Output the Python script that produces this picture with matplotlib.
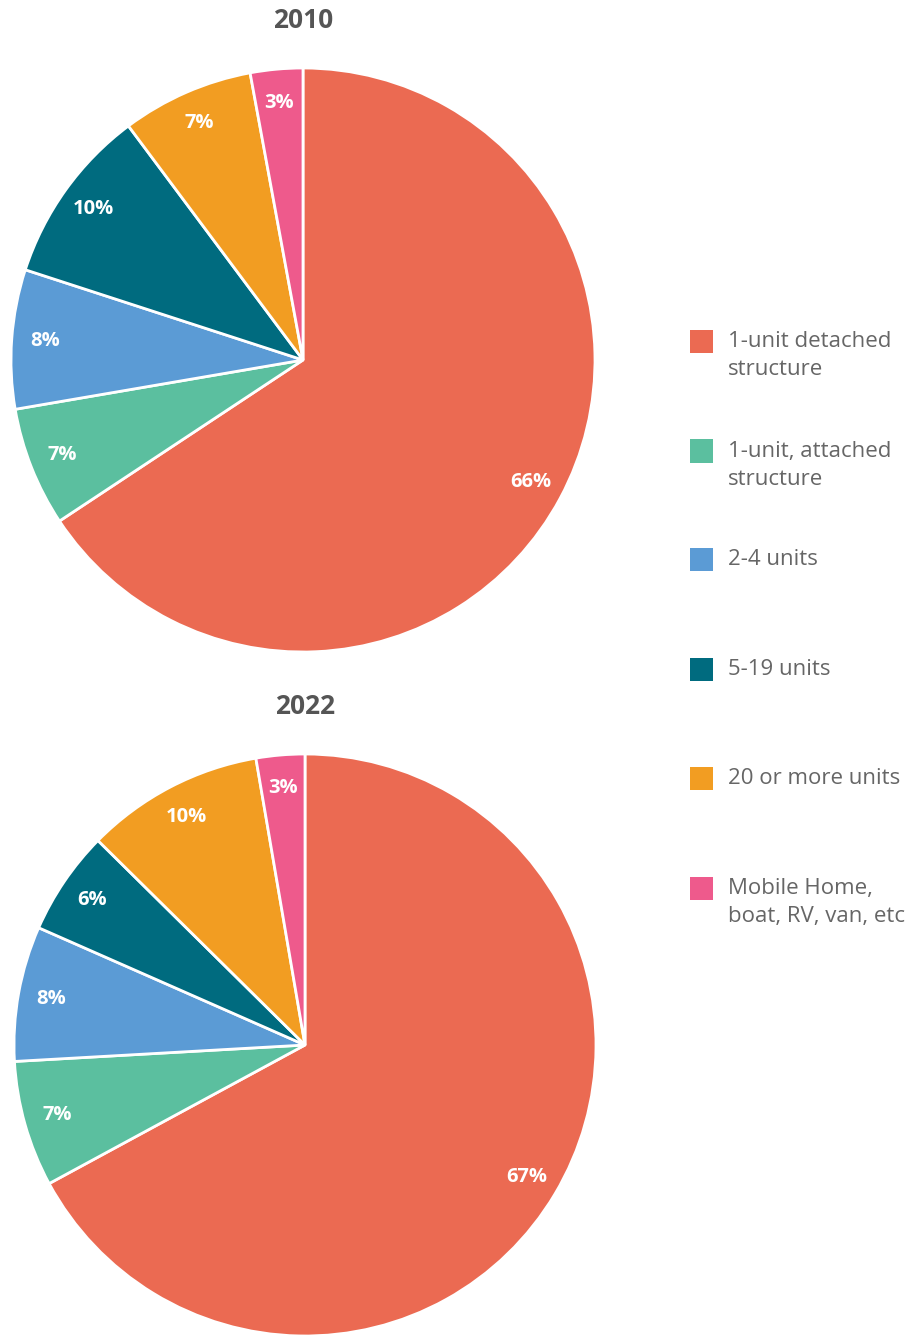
import matplotlib.pyplot as plt
from matplotlib.patches import Rectangle

plt.rcParams['font.family'] = ['Open Sans', 'DejaVu Sans']

categories = ['1-unit detached\nstructure', '1-unit, attached\nstructure', '2-4 units',
              '5-19 units', '20 or more units', 'Mobile Home,\nboat, RV, van, etc']
colors = ['#EB6A52', '#5BBF9F', '#5B9BD5', '#006B7F', '#F29D22', '#EE5A8C']

years = ['2010', '2022']
values_2010 = [65.7, 6.6, 7.7, 9.8, 7.3, 2.9]
values_2022 = [67.1, 7.0, 7.5, 5.8, 9.9, 2.7]
labels_2010 = ['66%', '7%', '8%', '10%', '7%', '3%']
labels_2022 = ['67%', '7%', '8%', '6%', '10%', '3%']

W, H = 908, 1336
fig = plt.figure(figsize=(W / 100, H / 100), dpi=100)

# pie boxes in pixels: (center x, center y, radius)
boxes = [(303, 360, 292), (305, 1045, 291)]
title_y = [20, 706]

for (cx, cy, r), year, vals, labs, ty in zip(boxes, years, [values_2010, values_2022],
                                             [labels_2010, labels_2022], title_y):
    ax = fig.add_axes([(cx - r) / W, 1 - (cy + r) / H, 2 * r / W, 2 * r / H])
    wedges, texts = ax.pie(vals, colors=colors, startangle=90, counterclock=False,
                           labels=labs, labeldistance=0.885,
                           wedgeprops=dict(edgecolor='white', linewidth=2))
    for t in texts:
        t.set_color('white')
        t.set_fontweight('bold')
        t.set_fontsize(14.5)
        t.set_ha('center')
        t.set_va('center')
    ax.set_xlim(-1, 1)
    ax.set_ylim(-1, 1)
    ax.set_aspect('equal')
    ax.axis('off')
    fig.text(cx / W, 1 - ty / H, year, ha='center', va='center',
             fontsize=19, fontweight='bold', color='#555555')

# legend
leg_y = [341, 451, 559, 669, 778, 888]
for lab, col, y in zip(categories, colors, leg_y):
    fig.patches.append(Rectangle((690 / W, 1 - (y + 11.5) / H), 23 / W, 23 / H,
                                 transform=fig.transFigure, facecolor=col,
                                 edgecolor='none'))
    fig.text(728 / W, 1 - (y - 10) / H, lab, ha='left', va='top', fontsize=16,
             color='#666666', linespacing=1.45)

plt.savefig('out.png', dpi=100)
